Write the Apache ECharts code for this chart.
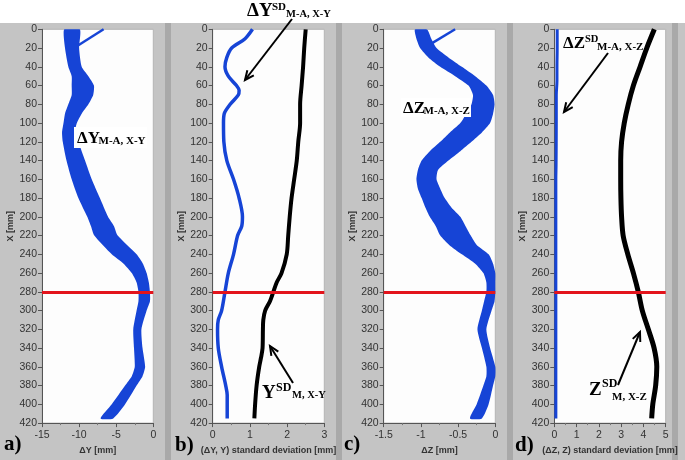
<!DOCTYPE html>
<html><head><meta charset="utf-8">
<script src="https://cdn.jsdelivr.net/npm/echarts@6/dist/echarts.min.js"></script>
<style>html,body{margin:0;padding:0;background:#fff}#c{width:685px;height:460px}</style>
</head><body><div id="c"></div>
<script>
// ---- Data ----
// Y-axis positions X [mm] are shared; horizontal values per series.
const yTicks = [0,20,40,60,80,100,120,140,160,180,200,220,240,260,280,300,320,340,360,380,400,420];
const cutLine = 280;

// Panel a) ΔY band (left / right envelope of ~30 curves)
const aX     = [0,20,40,50,60,70,80,90,100,110,120,140,160,180,200,210,220,240,250,260,270,280,290,300,320,340,360,370,380,400,415];
const aLeft  = [-12.0,-11.9,-11.45,-11.0,-11.0,-11.0,-11.45,-11.9,-12.1,-12.3,-12.2,-11.7,-11.0,-10.1,-8.9,-8.4,-7.95,-5.6,-4.0,-2.9,-2.25,-2.0,-2.0,-2.25,-2.7,-2.6,-2.5,-2.9,-3.8,-5.6,-7.1];
const aRight = [-9.9,-10.0,-9.65,-8.75,-8.0,-8.1,-8.75,-9.65,-10.3,-10.55,-10.1,-9.2,-8.3,-7.2,-6.1,-5.3,-4.8,-2.25,-1.4,-0.9,-0.6,-0.45,-0.45,-0.9,-1.6,-1.45,-1.1,-1.45,-2.25,-3.8,-5.4];
const aOutX  = [0,17];
const aOutV  = [-6.7,-10.1];

// Panel b) standard deviations
const bBlueX = [0,10,20,30,40,50,60,65,70,80,90,100,120,140,160,180,200,210,220,240,260,280,300,310,320,340,360,380,390,415];
const bBlueV = [1.07,0.87,0.51,0.38,0.33,0.42,0.64,0.71,0.69,0.47,0.31,0.29,0.30,0.38,0.56,0.71,0.80,0.78,0.67,0.56,0.42,0.33,0.24,0.15,0.13,0.15,0.24,0.35,0.39,0.39];
const bBlackX = [0,20,40,60,80,100,120,140,160,180,200,220,240,260,270,280,290,300,310,320,340,350,360,380,400,415];
const bBlackV = [2.50,2.46,2.43,2.39,2.35,2.35,2.30,2.26,2.19,2.12,2.07,2.03,1.99,1.85,1.72,1.63,1.54,1.41,1.36,1.35,1.34,1.30,1.25,1.18,1.14,1.12];

// Panel c) ΔZ band
const cX     = [0,10,20,30,40,50,60,70,80,90,100,110,120,130,140,150,160,170,180,190,200,210,220,230,240,250,260,270,280,290,300,320,340,360,370,380,400,415];
const cLeft  = [-1.08,-1.06,-1.01,-0.90,-0.74,-0.54,-0.36,-0.30,-0.32,-0.39,-0.47,-0.61,-0.74,-0.88,-0.99,-1.04,-1.06,-1.04,-0.99,-0.94,-0.88,-0.80,-0.74,-0.62,-0.45,-0.27,-0.16,-0.12,-0.12,-0.15,-0.18,-0.24,-0.18,-0.12,-0.12,-0.16,-0.25,-0.34];
const cRight = [-0.92,-0.86,-0.79,-0.63,-0.45,-0.27,-0.12,-0.03,-0.01,-0.03,-0.07,-0.18,-0.32,-0.47,-0.63,-0.77,-0.79,-0.74,-0.68,-0.59,-0.47,-0.40,-0.33,-0.25,-0.09,-0.03,0,0,0,-0.01,-0.05,-0.12,-0.07,0,0,-0.03,-0.09,-0.18];
const cOutX  = [0,15];
const cOutV  = [-0.54,-0.855];

// Panel d) standard deviations
const dBlueX = [0,20,40,55,70,100,145,160,200,250,300,350,415];
const dBlueV = [0.13,0.13,0.12,0.12,0.09,0.09,0.08,0.07,0.07,0.07,0.07,0.07,0.07];
const dBlackX = [0,20,40,60,80,100,120,140,160,180,200,220,240,260,280,300,320,340,360,380,400,415];
const dBlackV = [4.49,4.15,3.85,3.55,3.32,3.14,3.02,2.98,2.98,2.99,3.02,3.09,3.30,3.55,3.77,3.95,4.22,4.48,4.60,4.55,4.42,4.37];

const xNames = ['ΔY [mm]','(ΔY, Y) standard deviation [mm]','ΔZ [mm]','(ΔZ, Z) standard deviation [mm]'];
const xMin = [-15,0,-1.5,0], xMax=[0,3,0,5], xInt=[5,1,0.5,1];
const panelLetters = ['a)','b)','c)','d)'];

// ---- Styling ----
const BLUE = '#1644d6', RED = '#e3141c';
const gridLeft = [42,212.7,383.7,554.3];
const gridW = [111.3,111.6,111.6,111.4];

const chart = echarts.init(document.getElementById('c'));

function pairs(vals, xs){ return xs.map((x,i)=>[vals[i], x]); }
function band(xs, left, right){
  return function(params, api){
    const pts=[];
    for(let i=0;i<xs.length;i++) pts.push(api.coord([left[i], xs[i]]));
    for(let i=xs.length-1;i>=0;i--) pts.push(api.coord([right[i], xs[i]]));
    return {type:'polygon', shape:{points:pts, smooth:0.2}, style:{fill:BLUE}};
  };
}
const redMark = {silent:true, symbol:'none', label:{show:false}, animation:false,
  lineStyle:{color:RED, width:3, type:'solid'}, data:[{yAxis:cutLine}]};

const grids=[], xAxes=[], yAxes=[];
for(let i=0;i<4;i++){
  grids.push({left:gridLeft[i], width:gridW[i], top:29.3, height:395, show:true,
    backgroundColor:'#fdfdfd', borderColor:'#b4b4b4', borderWidth:1});
  xAxes.push({gridIndex:i, type:'value', min:xMin[i], max:xMax[i], interval:xInt[i], position:'bottom',
    axisLine:{show:true, onZero:false, lineStyle:{color:'#555', width:1}},
    axisTick:{show:true, length:4, lineStyle:{color:'#555'}},
    minorTick:{show:true, splitNumber:2, length:2, lineStyle:{color:'#777'}},
    splitLine:{show:false},
    axisLabel:{fontSize:10.5, color:'#333', margin:7, fontFamily:'Liberation Sans'},
    name:xNames[i], nameLocation:'middle', nameGap:22,
    nameTextStyle:{fontSize:9, fontWeight:'bold', color:'#333', fontFamily:'Liberation Sans'}});
  yAxes.push({gridIndex:i, type:'value', min:0, max:420, interval:20, inverse:true,
    axisLine:{show:true, onZero:false, lineStyle:{color:'#555', width:1}},
    axisTick:{show:true, length:4, lineStyle:{color:'#555'}},
    splitLine:{show:false},
    axisLabel:{fontSize:10.5, color:'#333', margin:5, fontFamily:'Liberation Sans'},
    name:'X [mm]', nameLocation:'middle', nameGap:27, nameRotate:90,
    nameTextStyle:{fontSize:9, fontWeight:'bold', color:'#333', fontFamily:'Liberation Sans'}});
}

const lineS = (idx, data, color, w, mark)=>({type:'line', xAxisIndex:idx, yAxisIndex:idx, data,
  showSymbol:false, smooth:0.3, z:3, clip:true, lineStyle:{color, width:w}, itemStyle:{color},
  markLine: mark?redMark:undefined, animation:false});

const series = [
  {type:'custom', xAxisIndex:0, yAxisIndex:0, data:[[0,0]], renderItem:band(aX,aLeft,aRight), clip:true, z:2, animation:false},
  lineS(0, pairs(aOutV,aOutX), BLUE, 2.5, true),
  lineS(1, pairs(bBlueV,bBlueX), BLUE, 3.5, false),
  lineS(1, pairs(bBlackV,bBlackX), '#000', 4, true),
  {type:'custom', xAxisIndex:2, yAxisIndex:2, data:[[0,0]], renderItem:band(cX,cLeft,cRight), clip:true, z:2, animation:false},
  lineS(2, pairs(cOutV,cOutX), BLUE, 2.5, true),
  lineS(3, pairs(dBlueV,dBlueX), BLUE, 3, false),
  lineS(3, pairs(dBlackV,dBlackX), '#000', 5, true)
];

// ---- Graphic: background frames, annotations ----
const G = [];
G.push({type:'rect', shape:{x:0,y:23,width:685,height:437}, style:{fill:'#c4c4c4'}, z:-100, silent:true});
[165,336,507,672].forEach(x=>G.push({type:'rect', shape:{x:x,y:23,width:6,height:437}, style:{fill:'#a9a9a9'}, z:-99, silent:true}));

const SERIF = '"Liberation Serif","Times New Roman",serif';
function txt(t, x, base, size){
  return {type:'text', x:x, y:base + size*0.22, z:100, silent:true,
    style:{text:t, font:'bold '+size+'px '+SERIF, fill:'#000', textAlign:'left', textVerticalAlign:'bottom', align:'left', verticalAlign:'bottom'}};
}
function arrow(x1,y1,x2,y2){
  const ang=Math.atan2(y2-y1,x2-x1), L=10, a=0.42;
  const p1=[x2-L*Math.cos(ang-a), y2-L*Math.sin(ang-a)];
  const p2=[x2-L*Math.cos(ang+a), y2-L*Math.sin(ang+a)];
  G.push({type:'line', shape:{x1,y1,x2,y2}, style:{stroke:'#000', lineWidth:2}, z:100, silent:true});
  G.push({type:'polyline', shape:{points:[p1,[x2,y2],p2]}, style:{stroke:'#000', lineWidth:2, fill:null}, z:100, silent:true});
}
// white label boxes
G.push({type:'rect', shape:{x:74,y:127,width:73,height:21}, style:{fill:'#fff'}, z:90, silent:true});
G.push({type:'rect', shape:{x:401,y:98,width:70,height:19}, style:{fill:'#fff'}, z:90, silent:true});
// a)
G.push(txt('ΔY',77,143.5,17), txt('M-A, X-Y',98.5,144.5,11));
// c)
G.push(txt('ΔZ',403,113.5,17), txt('M-A, X-Z',423.5,114.5,11));
// b) top
G.push(txt('ΔY',247,16.5,19), txt('SD',272,10.5,11), txt('M-A, X-Y',286,17.5,10.5));
arrow(292,19,245,80);
// b) bottom
G.push(txt('Y',262,398,19), txt('SD',276,391.5,12), txt('M, X-Y',292,398.5,10.5));
arrow(293,383,270,346);
// d) top
G.push(txt('ΔZ',563,48.5,17), txt('SD',585,42,10.5), txt('M-A, X-Z',597,50.5,11));
arrow(608,53,564,112);
// d) bottom
G.push(txt('Z',589,395,19), txt('SD',602,387,12), txt('M, X-Z',612,400,11));
arrow(618,385,640,332);
// panel letters
const letterX=[4,175,344,515], letterB=[450,451,450,451];
panelLetters.forEach((t,i)=>G.push(txt(t,letterX[i],letterB[i],21)));

chart.setOption({
  animation:false,
  backgroundColor:'#ffffff',
  grid:grids, xAxis:xAxes, yAxis:yAxes, series:series,
  graphic:{elements:G}
});
</script></body></html>
